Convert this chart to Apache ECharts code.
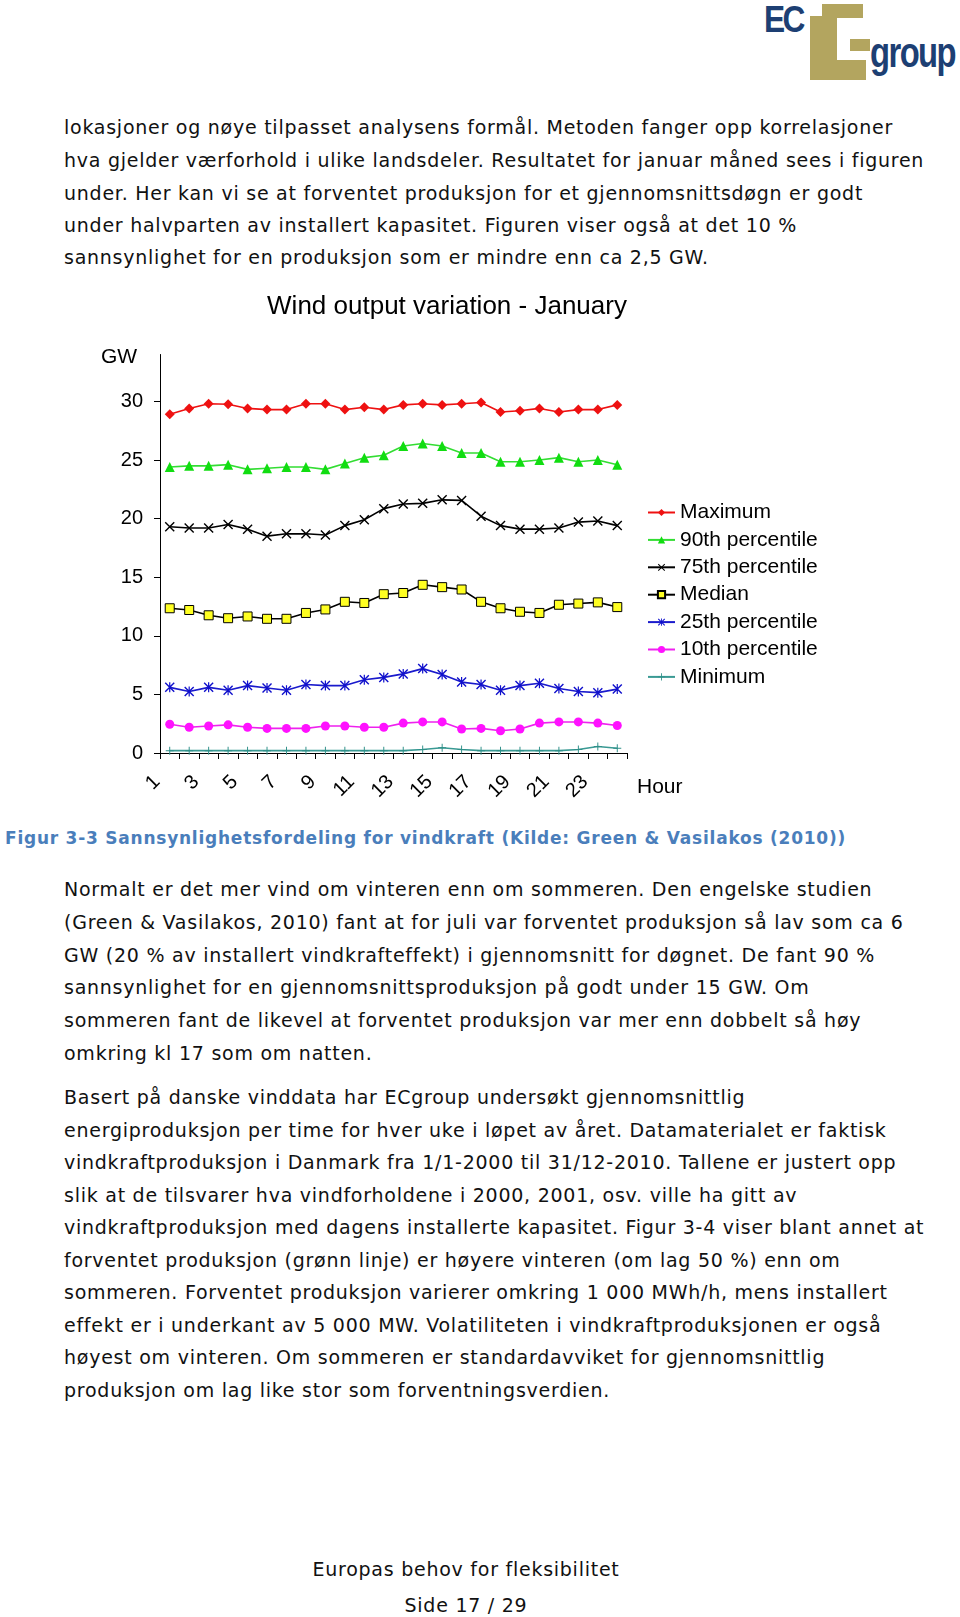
<!DOCTYPE html>
<html><head><meta charset="utf-8">
<script src="https://cdn.jsdelivr.net/npm/echarts@6/dist/echarts.min.js"></script>
<style>
html,body{margin:0;padding:0;background:#fff;}
body{width:960px;height:1617px;position:relative;overflow:hidden;font-family:"DejaVu Sans",Verdana,sans-serif;color:#111;}
.ln{position:absolute;left:64px;white-space:nowrap;font-size:19px;line-height:32px;height:32px;}
.cap{position:absolute;left:5px;white-space:nowrap;font-size:17px;font-weight:bold;color:#4a7ebb;line-height:32px;height:32px;}
.ctr{position:absolute;left:0;width:932px;text-align:center;font-size:19px;line-height:32px;height:32px;white-space:nowrap;}
#chart{position:absolute;left:0;top:270px;width:960px;height:540px;}
.logo div{position:absolute;}
</style></head>
<body>
<div class="logo">
  <div style="left:822px;top:4px;width:41px;height:14px;background:#b3a55f"></div>
  <div style="left:810px;top:16px;width:27px;height:64px;background:#b3a55f"></div>
  <div style="left:810px;top:60px;width:56px;height:20px;background:#b3a55f"></div>
  <div style="left:850px;top:39px;width:20px;height:12px;background:#b3a55f"></div>
  <div style="left:764px;top:0px;font-family:'Liberation Sans Narrow','Liberation Sans',Arial,sans-serif;font-weight:bold;font-size:36px;line-height:40px;color:#1d3f73;letter-spacing:-3px;transform:scaleX(0.88);transform-origin:0 0;">EC</div>
  <div style="left:870px;top:30px;font-family:'Liberation Sans Narrow','Liberation Sans',Arial,sans-serif;font-weight:bold;font-size:42px;line-height:46px;color:#1d3f73;letter-spacing:-2px;transform:scaleX(0.78);transform-origin:0 0;">group</div>
</div>
<div id="text"></div>
<div id="chart"></div>
<script>
// ---- data ----
const hours = ['1','2','3','4','5','6','7','8','9','10','11','12','13','14','15','16','17','18','19','20','21','22','23','24'];
const maximum = [28.9,29.4,29.8,29.75,29.4,29.3,29.3,29.8,29.8,29.3,29.5,29.3,29.7,29.8,29.7,29.8,29.9,29.1,29.2,29.4,29.1,29.3,29.3,29.7];
const p90 = [24.4,24.5,24.5,24.6,24.2,24.3,24.4,24.4,24.2,24.7,25.2,25.4,26.2,26.4,26.2,25.6,25.6,24.85,24.85,25.0,25.2,24.85,25.0,24.6];
const p75 = [19.3,19.2,19.2,19.5,19.1,18.5,18.7,18.7,18.6,19.4,19.9,20.85,21.25,21.3,21.6,21.55,20.2,19.4,19.1,19.1,19.2,19.7,19.8,19.4];
const median = [12.35,12.2,11.75,11.5,11.65,11.45,11.45,11.95,12.25,12.9,12.8,13.55,13.65,14.35,14.15,13.95,12.9,12.35,12.05,11.95,12.65,12.75,12.85,12.45];
const p25 = [5.6,5.25,5.6,5.35,5.75,5.55,5.35,5.85,5.75,5.75,6.25,6.45,6.75,7.2,6.7,6.05,5.85,5.35,5.75,5.95,5.5,5.25,5.15,5.45];
const p10 = [2.45,2.2,2.3,2.4,2.2,2.1,2.1,2.1,2.3,2.3,2.2,2.2,2.55,2.65,2.65,2.05,2.1,1.9,2.05,2.55,2.65,2.65,2.55,2.35];
const minimum = [0.2,0.2,0.2,0.2,0.2,0.2,0.2,0.2,0.2,0.2,0.2,0.2,0.2,0.3,0.45,0.3,0.2,0.2,0.2,0.2,0.2,0.3,0.55,0.4];
const seriesNames = ['Maximum','90th percentile','75th percentile','Median','25th percentile','10th percentile','Minimum'];
const yTickValues = [0,5,10,15,20,25,30];

// ---- page text ----
const para1 = [
 'lokasjoner og nøye tilpasset analysens formål. Metoden fanger opp korrelasjoner',
 'hva gjelder værforhold i ulike landsdeler. Resultatet for januar måned sees i figuren',
 'under. Her kan vi se at forventet produksjon for et gjennomsnittsdøgn er godt',
 'under halvparten av installert kapasitet. Figuren viser også at det 10 %',
 'sannsynlighet for en produksjon som er mindre enn ca 2,5 GW.'];
const para2 = [
 'Normalt er det mer vind om vinteren enn om sommeren. Den engelske studien',
 '(Green & Vasilakos, 2010) fant at for juli var forventet produksjon så lav som ca 6',
 'GW (20 % av installert vindkrafteffekt) i gjennomsnitt for døgnet. De fant 90 %',
 'sannsynlighet for en gjennomsnittsproduksjon på godt under 15 GW. Om',
 'sommeren fant de likevel at forventet produksjon var mer enn dobbelt så høy',
 'omkring kl 17 som om natten.'];
const para3 = [
 'Basert på danske vinddata har ECgroup undersøkt gjennomsnittlig',
 'energiproduksjon per time for hver uke i løpet av året. Datamaterialet er faktisk',
 'vindkraftproduksjon i Danmark fra 1/1-2000 til 31/12-2010. Tallene er justert opp',
 'slik at de tilsvarer hva vindforholdene i 2000, 2001, osv. ville ha gitt av',
 'vindkraftproduksjon med dagens installerte kapasitet. Figur 3-4 viser blant annet at',
 'forventet produksjon (grønn linje) er høyere vinteren (om lag 50 %) enn om',
 'sommeren. Forventet produksjon varierer omkring 1 000 MWh/h, mens installert',
 'effekt er i underkant av 5 000 MW. Volatiliteten i vindkraftproduksjonen er også',
 'høyest om vinteren. Om sommeren er standardavviket for gjennomsnittlig',
 'produksjon om lag like stor som forventningsverdien.'];
const caption = 'Figur 3-3 Sannsynlighetsfordeling for vindkraft (Kilde: Green & Vasilakos (2010))';
const footer = ['Europas behov for fleksibilitet','Side 17 / 29'];

const textDiv = document.getElementById('text');
function addLine(cls, txt, centerY){
  const d = document.createElement('div');
  d.className = cls; d.textContent = txt; d.style.top = (centerY - 17) + 'px';
  textDiv.appendChild(d);
  return d;
}
const p1y=[128,161,194,226,258];
const first = para1.map((t,i)=>addLine('ln',t,p1y[i]))[0];
const capDiv = addLine('cap',caption,839);
const p2y=[890,923,956,988,1021,1054];
para2.forEach((t,i)=>addLine('ln',t,p2y[i]));
const p3y=[1098,1131,1163,1196,1228,1261,1293,1326,1358,1391];
para3.forEach((t,i)=>addLine('ln',t,p3y[i]));
addLine('ctr',footer[0],1570);
addLine('ctr',footer[1],1606);
// spacing to approximate the wider original body font
const w1 = first.getBoundingClientRect().width;
const ls = (829 - w1) / para1[0].length;
document.querySelectorAll('.ln,.ctr').forEach(e=>{e.style.letterSpacing = ls + 'px';});
const wc = capDiv.getBoundingClientRect().width;
capDiv.style.letterSpacing = ((841 - wc) / caption.length) + 'px';

// ---- chart ----
const X_PATH = 'path://M0,1L1,0L10,9L9,10Z M9,0L10,1L1,10L0,9Z';
const PLUS_PATH = 'path://M4.4,0L5.6,0L5.6,10L4.4,10Z M0,4.4L10,4.4L10,5.6L0,5.6Z';
const STAR_PATH = 'path://M0,1L1,0L10,9L9,10Z M9,0L10,1L1,10L0,9Z M4.4,0L5.6,0L5.6,10L4.4,10Z';

const styles = [
 {data: maximum, symbol:'diamond', size:10, color:'#ee1111', line:'#ee1111'},
 {data: p90, symbol:'triangle', size:10, color:'#11dd11', line:'#33dd33'},
 {data: p75, symbol:X_PATH, size:10, color:'#000000', line:'#000000'},
 {data: median, symbol:'rect', size:9, color:'#ffff22', line:'#000000', border:'#000000'},
 {data: p25, symbol:STAR_PATH, size:10, color:'#1010cc', line:'#1a1acc'},
 {data: p10, symbol:'circle', size:9, color:'#ff11ff', line:'#ee22ee'},
 {data: minimum, symbol:PLUS_PATH, size:8, color:'#2e8f88', line:'#3a9a94'}
];

const chart = echarts.init(document.getElementById('chart'), null, {renderer:'canvas'});
const FONT = '"Liberation Sans", Arial, sans-serif';
chart.setOption({
  animation:false,
  backgroundColor:'transparent',
  title:[
    {text:'Wind output variation - January', left:442, top:19, textAlign:'center',
     textStyle:{fontFamily:FONT, fontSize:26, fontWeight:'normal', color:'#000'}},
    {text:'GW', left:96, top:72, textStyle:{fontFamily:FONT, fontSize:21, fontWeight:'normal', color:'#000'}},
    {text:'Hour', left:632, top:502, textStyle:{fontFamily:FONT, fontSize:21, fontWeight:'normal', color:'#000'}}
  ],
  legend:{
    orient:'vertical', left:642, top:227, itemWidth:27, itemHeight:9, itemGap:6.4,
    textStyle:{fontFamily:FONT, fontSize:21, color:'#000', lineHeight:20},
    data: seriesNames
  },
  grid:{left:160, top:84.5, width:467, height:398.5, containLabel:false},
  xAxis:{
    type:'category', data:hours, boundaryGap:true,
    axisLine:{lineStyle:{color:'#000', width:1}},
    axisTick:{show:true, interval:0, length:6, inside:false, lineStyle:{color:'#000'}},
    axisLabel:{interval:1, rotate:45, margin:13, padding:[0,18,24,0], fontFamily:FONT, fontSize:20, color:'#000'},
    splitLine:{show:false}
  },
  yAxis:{
    type:'value', min:0, max:34, interval:5,
    axisLine:{show:true, lineStyle:{color:'#000', width:1}},
    axisTick:{show:true, length:6, lineStyle:{color:'#000'}, customValues:yTickValues},
    axisLabel:{margin:17, fontFamily:FONT, fontSize:20, color:'#000', customValues:yTickValues},
    splitLine:{show:false}
  },
  series: styles.map((s,i)=>({
    name: seriesNames[i], type:'line', data:s.data,
    symbol:s.symbol, symbolSize:s.size, showAllSymbol:true,
    lineStyle:{color:s.line, width:1.6},
    itemStyle:{color:s.color, borderColor:s.border||s.color, borderWidth:s.border?1:0},
    emphasis:{disabled:true}
  }))
});
</script>
</body></html>
